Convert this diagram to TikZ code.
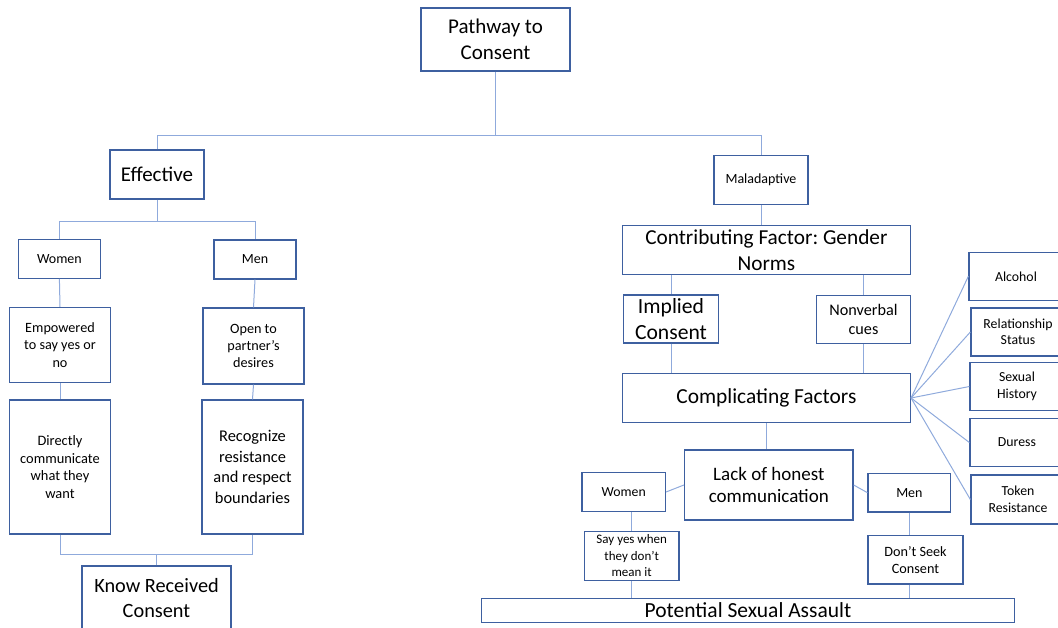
\documentclass[tikz,border=0pt]{standalone}
\usepackage{fontspec}
\setmainfont{Carlito}
\usepackage{tikz}
\frenchspacing
\definecolor{boxblue}{RGB}{62,96,160}
\definecolor{linkblue}{RGB}{143,170,220}
\tikzstyle{box} = [rectangle, draw=boxblue, line width=1.3pt, inner sep=0pt, align=center, text=black]
\tikzstyle{link} = [draw=linkblue, line width=1pt]

\begin{document}
\begin{tikzpicture}[x=1pt, y=-1pt]
\useasboundingbox (0,0) rectangle (1058,628);

% effective side
\node (path) [box, minimum width=149pt, minimum height=63pt, font=\fontsize{21}{26}\selectfont] at (495.5,39.5) {Pathway to\\Consent};
\node (eff) [box, minimum width=94pt, minimum height=49pt, font=\fontsize{21}{26}\selectfont] at (157,174.5) {Effective};
\node (womenL) [box, minimum width=82pt, minimum height=39pt, font=\fontsize{14}{17}\selectfont] at (59.4,258.7) {Women};
\node (menL) [box, minimum width=82pt, minimum height=39pt, font=\fontsize{14}{17}\selectfont] at (255,259.5) {Men};
\node (empow) [box, minimum width=101pt, minimum height=75pt, font=\fontsize{14.2}{17.3}\selectfont] at (60,345) {Empowered\\to say yes or\\no};
\node (open) [box, minimum width=101pt, minimum height=76pt, font=\fontsize{14.2}{17.3}\selectfont] at (253.5,346) {Open to\\partner’s\\desires};
\node (direct) [box, minimum width=101pt, minimum height=134pt, font=\fontsize{14.4}{17.6}\selectfont] at (60,467) {Directly\\communicate\\what they\\want};
\node (recog) [box, minimum width=101pt, minimum height=134pt, font=\fontsize{16.4}{20.4}\selectfont] at (252.5,467) {Recognize\\resistance\\and respect\\boundaries};
\node (know) [box, minimum width=149pt, minimum height=65pt, font=\fontsize{20.3}{25}\selectfont] at (156.5,598.5) {Know Received\\Consent};

% maladaptive side
\node (mal) [box, minimum width=94pt, minimum height=48.6pt, font=\fontsize{14}{17}\selectfont] at (761,180) {Maladaptive};
\node (contrib) [box, minimum width=288pt, minimum height=48.6pt, font=\fontsize{21.3}{25.7}\selectfont] at (766.4,250) {Contributing Factor: Gender\\Norms};
\node (implied) [box, minimum width=95pt, minimum height=48pt, font=\fontsize{21.6}{25.7}\selectfont] at (671,319) {Implied\\Consent};
\node (nonverbal) [box, minimum width=94pt, minimum height=48pt, font=\fontsize{16.2}{19.3}\selectfont] at (863.5,319.5) {Nonverbal\\cues};
\node (comp) [box, minimum width=288pt, minimum height=49pt, font=\fontsize{21.4}{26}\selectfont] at (766.4,398) {Complicating Factors};
\node (alcohol) [box, minimum width=94pt, minimum height=48pt, font=\fontsize{13.8}{16.5}\selectfont] at (1016,276.3) {Alcohol};
\node (relation) [box, minimum width=94pt, minimum height=48pt, font=\fontsize{13.8}{16.5}\selectfont] at (1018,332) {Relationship\\Status};
\node (sexual) [box, minimum width=94pt, minimum height=48pt, font=\fontsize{13.8}{16.5}\selectfont] at (1017,386.5) {Sexual\\History};
\node (duress) [box, minimum width=94pt, minimum height=48pt, font=\fontsize{13.8}{16.5}\selectfont] at (1017,442.5) {Duress};
\node (token) [box, minimum width=94pt, minimum height=49pt, font=\fontsize{13.8}{16.5}\selectfont] at (1018,499.5) {Token\\Resistance};
\node (lack) [box, minimum width=168.5pt, minimum height=70pt, font=\fontsize{19}{22.7}\selectfont] at (768.8,485) {Lack of honest\\communication};
\node (womenR) [box, minimum width=83.4pt, minimum height=39.4pt, font=\fontsize{13.8}{17}\selectfont] at (623.7,492) {Women};
\node (menR) [box, minimum width=82.6pt, minimum height=38.7pt, font=\fontsize{14}{17}\selectfont] at (909.4,492.7) {Men};
\node (sayyes) [box, minimum width=94.7pt, minimum height=49.4pt, font=\fontsize{13}{16.5}\selectfont] at (631.7,556) {Say yes when\\they don’t\\mean it};
\node (dontseek) [box, minimum width=95pt, minimum height=48.3pt, font=\fontsize{14.2}{17.3}\selectfont] at (915.5,559.8) {Don’t Seek\\Consent};
\node (psa) [box, minimum width=532.7pt, minimum height=24.4pt, font=\fontsize{21.5}{26}\selectfont] at (748,610.5) {Potential Sexual Assault};

\coordinate (topbus) at (0,136);
\coordinate (effbus) at (0,222);
\coordinate (knowbus) at (0,554);

\draw[link] (path.south) -- (path.south |- topbus);
\draw[link] (eff.north) -- (eff.north |- topbus) -| (mal.north);
\draw[link] (eff.south) -- (eff.south |- effbus);
\draw[link] (womenL.north) |- (menL.north |- effbus) -- (menL.north);
\draw[link] (womenL.south) -- (empow.north);
\draw[link] (empow.south) -- (direct.north);
\draw[link] (menL.south) -- (open.north);
\draw[link] (open.south) -- (recog.north);
\draw[link] (direct.south) |- (recog.south |- knowbus) -- (recog.south);
\draw[link] (know.north) -- (know.north |- knowbus);

\draw[link] (mal.south) -- (mal.south |- contrib.north);
\draw[link] (implied.north |- contrib.south) -- (implied.north);
\draw[link] (implied.south) -- (implied.south |- comp.north);
\draw[link] (nonverbal.north |- contrib.south) -- (nonverbal.north);
\draw[link] (nonverbal.south) -- (nonverbal.south |- comp.north);
\foreach \f in {alcohol, relation, sexual, duress, token}
  \draw[link] (comp.east) -- (\f.west);
\draw[link] (comp.south) -- (comp.south |- lack.north);
\draw[link] (lack.west) -- (womenR.east);
\draw[link] (lack.east) -- (menR.west);
\draw[link] (sayyes.north |- womenR.south) -- (sayyes.north);
\draw[link] (sayyes.south) -- (sayyes.south |- psa.north);
\draw[link] (menR.south) -- (menR.south |- dontseek.north);
\draw[link] (menR.south |- dontseek.south) -- (menR.south |- psa.north);
\end{tikzpicture}
\end{document}
